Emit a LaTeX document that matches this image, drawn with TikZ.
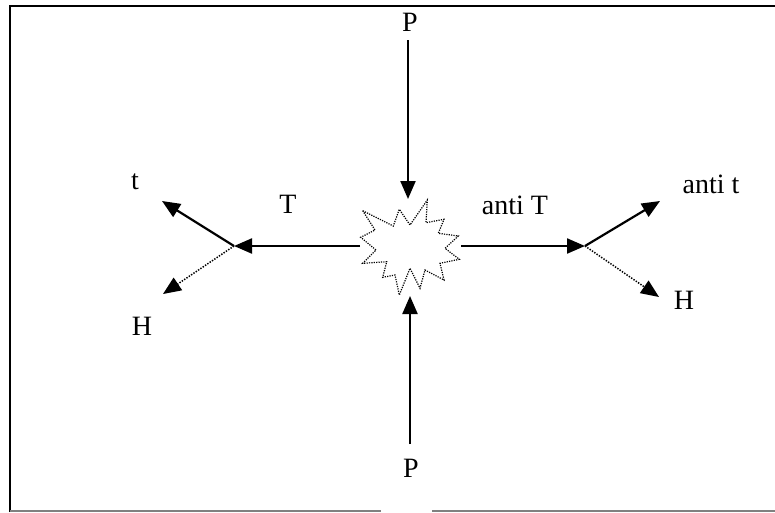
\documentclass[tikz,border=0pt]{standalone}
\usepackage{fontspec}
\setmainfont{Liberation Serif}
\usetikzlibrary{arrows.meta}
\begin{document}
\begin{tikzpicture}[x=1pt,y=-1pt,
  lbl/.style={font=\fontsize{28}{32}\selectfont, inner sep=0pt},
  arr/.style={line width=2.2pt, -{Triangle[length=18pt,width=15pt]}},
  darr/.style={line width=1.5pt, dash pattern=on 1.4pt off 1.4pt, -{Triangle[length=18pt,width=15pt]}},
  burst/.style={line width=1.2pt, dash pattern=on 1.2pt off 1.2pt}]
\useasboundingbox (0,0) rectangle (775,512);
% frame
\draw[line width=2.2pt] (10,512) -- (10,6) -- (775,6);
\draw[line width=2pt, gray] (10,511) -- (381,511);
\draw[line width=2pt, gray] (432,511) -- (775,511);
% labels
\node[lbl] (Ptop) at (410,22) {P};
\node[lbl] (Pbot) at (411,468) {P};
\node[lbl] (T) at (288,204) {T};
\node[lbl] (aT) at (515,205) {anti T};
\node[lbl] (t) at (135,182) {t};
\node[lbl] (at) at (711,184) {anti t};
\node[lbl] (H1) at (142,326) {H};
\node[lbl] (H2) at (684,300) {H};
% coordinates
\coordinate (ptopS) at (408,40);
\coordinate (ptopE) at (408,199);
\coordinate (pbotS) at (410,444);
\coordinate (pbotE) at (410,296);
\coordinate (cL) at (360,246);
\coordinate (cR) at (461,246);
\coordinate (vL) at (234,246);
\coordinate (vR) at (585,246);
\coordinate (tE) at (162,201);
\coordinate (hLE) at (163,294);
\coordinate (atE) at (660,201);
\coordinate (hRE) at (659,297);
% starburst
\draw[burst] (362.7,210.7) -- (393.3,226) -- (399.3,209.3) -- (410,225) -- (427.3,200)
  -- (426,222.7) -- (444,219.3) -- (438.3,233.3) -- (458.3,236) -- (445,248.3)
  -- (459.3,259.3) -- (440,263.3) -- (444,280) -- (425,270) -- (420,288.3)
  -- (410,268.3) -- (399.3,295) -- (395,275) -- (382.7,277.3) -- (386.7,261.7)
  -- (362.7,263.3) -- (376,250) -- (360.7,237.3) -- (375,230) -- cycle;
% arrows
\draw[arr] (ptopS) -- (ptopE);
\draw[arr] (pbotS) -- (pbotE);
\draw[arr] (cL) -- (vL);
\draw[arr] (cR) -- (vR);
\draw[arr] (vL) -- (tE);
\draw[darr] (vL) -- (hLE);
\draw[arr] (vR) -- (atE);
\draw[darr] (vR) -- (hRE);
\end{tikzpicture}
\end{document}
